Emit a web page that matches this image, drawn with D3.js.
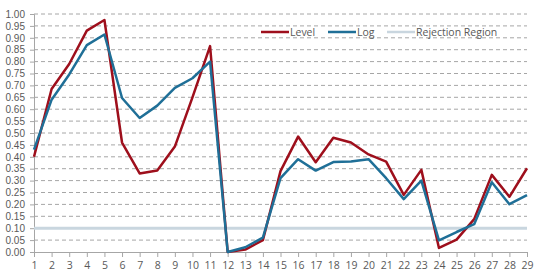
<!DOCTYPE html>
<html>
<head>
<meta charset="utf-8">
<script src="https://cdn.jsdelivr.net/npm/d3@7"></script>
<style>
  body { margin: 0; background: #fff; }
  text { font-family: "Open Sans", sans-serif; fill: #595959; }
  .y-axis text { font-family: "Liberation Sans", Arial, sans-serif; }
</style>
</head>
<body>
<script>
const categories = d3.range(1, 30)
const level = [0.40, 0.685, 0.79, 0.93, 0.975, 0.46, 0.33, 0.342, 0.443, 0.65,
  0.865, 0.00, 0.01, 0.05, 0.34, 0.485, 0.377, 0.48, 0.46, 0.41,
  0.38, 0.24, 0.345, 0.017, 0.052, 0.138, 0.324, 0.232, 0.352]
const logv = [0.43, 0.64, 0.746, 0.869, 0.914, 0.647, 0.563, 0.615, 0.69, 0.73,
  0.80, 0.00, 0.02, 0.06, 0.31, 0.39, 0.342, 0.378, 0.38, 0.39,
  0.31, 0.222, 0.30, 0.049, 0.084, 0.117, 0.293, 0.201, 0.239]
const rejection = 0.10
const yTicks = d3.range(0, 21).map(i => i * 0.05)

const width = 540, height = 279
const margin = {top: 14, right: 13, bottom: 27, left: 34}

const svg = d3.select('body').append('svg')
  .attr('width', width)
  .attr('height', height)

const x = d3.scalePoint()
  .domain(categories)
  .range([margin.left, width - margin.right])

const y = d3.scaleLinear()
  .domain([0, 1])
  .range([height - margin.bottom, margin.top])

// dashed gridlines
svg.selectAll('line.grid')
  .data(yTicks.slice(1))
  .enter().append('line')
  .classed('grid', true)
  .attr('x1', margin.left)
  .attr('x2', width - margin.right)
  .attr('y1', d => y(d))
  .attr('y2', d => y(d))
  .attr('stroke', '#a6a6a6')
  .attr('stroke-width', 1)
  .attr('stroke-dasharray', '4,3')

// y axis
const yAxis = svg.append('g')
  .classed('y-axis', true)
  .attr('transform', `translate(${margin.left},0)`)
  .call(d3.axisLeft(y).tickValues(yTicks).tickFormat(d3.format('.2f')).tickSize(4).tickPadding(5))
yAxis.select('.domain').attr('stroke', '#a6a6a6')
yAxis.selectAll('.tick line').attr('stroke', '#a6a6a6')
yAxis.selectAll('text').attr('font-size', 10).style('fill', '#595959')

// x axis
const xAxis = svg.append('g')
  .attr('transform', `translate(0,${height - margin.bottom})`)
  .call(d3.axisBottom(x).tickSize(5).tickPadding(5))
xAxis.select('.domain').attr('stroke', '#a6a6a6')
xAxis.selectAll('.tick line').attr('stroke', '#a6a6a6')
xAxis.selectAll('text').attr('font-size', 10.5).style('fill', '#595959')

// rejection region
svg.append('line')
  .attr('x1', margin.left)
  .attr('x2', width - margin.right)
  .attr('y1', y(rejection))
  .attr('y2', y(rejection))
  .attr('stroke', '#c9d6df')
  .attr('stroke-width', 3)

const line = d3.line()
  .x((d, i) => x(categories[i]))
  .y(d => y(d))

svg.append('path')
  .datum(level)
  .attr('d', line)
  .attr('fill', 'none')
  .attr('stroke', '#9e0f1c')
  .attr('stroke-width', 2.5)
  .attr('stroke-linejoin', 'round')

svg.append('path')
  .datum(logv)
  .attr('d', line)
  .attr('fill', 'none')
  .attr('stroke', '#1f6f97')
  .attr('stroke-width', 2.5)
  .attr('stroke-linejoin', 'round')

// legend
const legendItems = [
  {name: 'Level', color: '#9e0f1c', x: 261},
  {name: 'Log', color: '#1f6f97', x: 328},
  {name: 'Rejection Region', color: '#c9d6df', x: 387}
]
const legend = svg.selectAll('g.legend')
  .data(legendItems)
  .enter().append('g')
  .classed('legend', true)
  .attr('transform', d => `translate(${d.x},32)`)
legend.append('line')
  .attr('x1', 0).attr('x2', 28)
  .attr('stroke', d => d.color)
  .attr('stroke-width', 2.5)
legend.append('text')
  .attr('x', 29)
  .attr('dy', '0.35em')
  .attr('font-size', 10.5)
  .text(d => d.name)
</script>
</body>
</html>
